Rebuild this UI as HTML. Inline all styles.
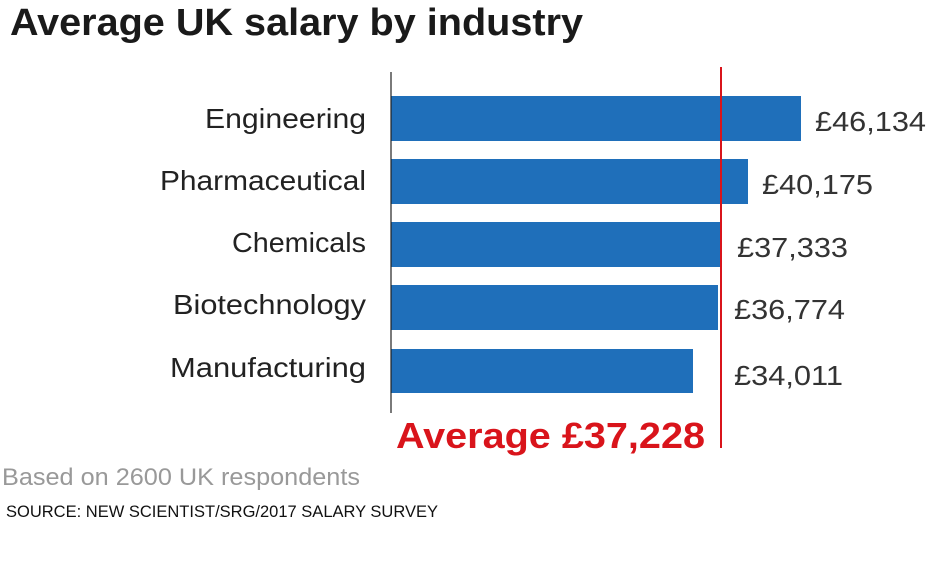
<!DOCTYPE html>
<html><head><style>body{margin:0;background:#fff}svg{display:block}</style></head>
<body>
<svg width="926" height="569" xmlns="http://www.w3.org/2000/svg" font-family="Liberation Sans, sans-serif">
<text x="10" y="35" font-size="38" font-weight="bold" fill="#1a1a1a" textLength="573" lengthAdjust="spacingAndGlyphs">Average UK salary by industry</text>
<g fill="#1f6fba">
<rect x="391" y="96" width="410" height="45"/>
<rect x="391" y="159" width="357" height="45"/>
<rect x="391" y="222" width="330" height="45"/>
<rect x="391" y="285" width="327" height="45"/>
<rect x="391" y="349" width="302" height="44"/>
</g>
<line x1="391" y1="72" x2="391" y2="413" stroke="#222" stroke-width="1.2"/>
<line x1="721" y1="67" x2="721" y2="448" stroke="#d9141b" stroke-width="2"/>
<g font-size="28" fill="#222" text-anchor="end">
<text x="366" y="128" textLength="161" lengthAdjust="spacingAndGlyphs">Engineering</text>
<text x="366" y="190" textLength="206" lengthAdjust="spacingAndGlyphs">Pharmaceutical</text>
<text x="366" y="252" textLength="134" lengthAdjust="spacingAndGlyphs">Chemicals</text>
<text x="366" y="314" textLength="193" lengthAdjust="spacingAndGlyphs">Biotechnology</text>
<text x="366" y="377" textLength="196" lengthAdjust="spacingAndGlyphs">Manufacturing</text>
</g>
<g font-size="28" fill="#333">
<text x="815" y="131" textLength="111" lengthAdjust="spacingAndGlyphs">£46,134</text>
<text x="762" y="194" textLength="111" lengthAdjust="spacingAndGlyphs">£40,175</text>
<text x="737" y="257" textLength="111" lengthAdjust="spacingAndGlyphs">£37,333</text>
<text x="734" y="319" textLength="111" lengthAdjust="spacingAndGlyphs">£36,774</text>
<text x="734" y="385" textLength="109" lengthAdjust="spacingAndGlyphs">£34,011</text>
</g>
<text x="396" y="448" font-size="36" font-weight="bold" fill="#d9141b" textLength="309" lengthAdjust="spacingAndGlyphs">Average £37,228</text>
<text x="2" y="485" font-size="24" fill="#999" textLength="358" lengthAdjust="spacingAndGlyphs">Based on 2600 UK respondents</text>
<text x="6" y="517" font-size="17" fill="#111" textLength="432" lengthAdjust="spacingAndGlyphs">SOURCE: NEW SCIENTIST/SRG/2017 SALARY SURVEY</text>
</svg>
</body></html>
